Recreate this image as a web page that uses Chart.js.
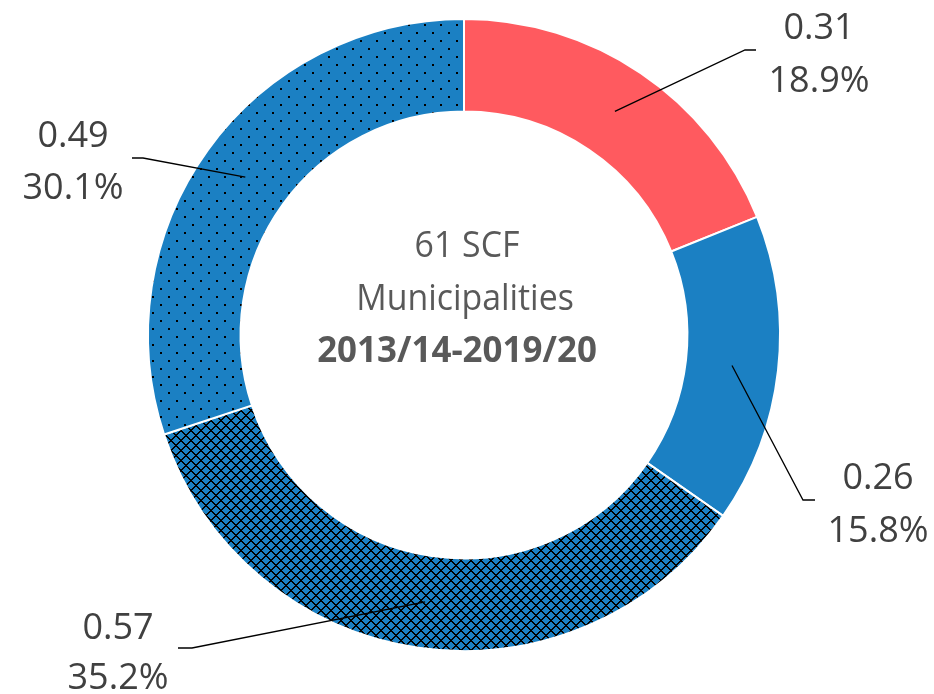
<!DOCTYPE html>
<html><head><meta charset="utf-8">
<script src="https://cdn.jsdelivr.net/npm/chart.js@4"></script>
<style>html,body{margin:0;padding:0;background:#fff;} #wrap{width:934px;height:694px;position:relative}</style>
</head><body><div id="wrap"><canvas id="c" width="934" height="694"></canvas></div>
<script>
// ---- data ----
const categories = ['Segment 1', 'Segment 2', 'Segment 3', 'Segment 4'];
const values = [0.31, 0.26, 0.57, 0.49];
const shares = [18.9, 15.8, 35.2, 30.1];
const valueLabels = ['0.31', '0.26', '0.57', '0.49'];
const shareLabels = ['18.9%', '15.8%', '35.2%', '30.1%'];
const centerLines = ['61 SCF', 'Municipalities', '2013/14-2019/20'];

// ---- styling ----
const RED = '#FF5A5F';
const BLUE = '#1B80C3';
const TEXT = '#404040';
const CENTER_TEXT = '#595959';
const FONT = '"Open Sans", "Noto Sans", sans-serif';

function makeTile(w, h, draw) {
  const c = document.createElement('canvas');
  c.width = w; c.height = h;
  const g = c.getContext('2d');
  g.fillStyle = BLUE; g.fillRect(0, 0, w, h);
  g.fillStyle = '#000';
  draw(g);
  return g.createPattern(c, 'repeat');
}
const dotPattern = makeTile(16, 16, g => { g.fillRect(0, 0, 2, 2); g.fillRect(8, 8, 2, 2); });
const diamondPattern = makeTile(10, 10, g => {
  for (let x = 0; x < 10; x++) for (let y = 0; y < 10; y++) {
    const s = (x + y) % 10;
    const d = ((x - y) % 10 + 10) % 10;
    if (s === 0 || s === 1 || d === 0 || d === 1) g.fillRect(x, y, 1, 1);
  }
});
const fills = [RED, BLUE, diamondPattern, dotPattern];

// label layout: offsets (px) from ring centre: bend point, line end x, text centre x, baselines
const labelLayout = [
  { bx: 281, by: -285, ex: 292, tx: 355, b1: -296, b2: -243 },
  { bx: 339, by: 165, ex: 351, tx: 414, b1: 154, b2: 207 },
  { bx: -272, by: 313, ex: -286, tx: -346, b1: 304, b2: 354 },
  { bx: -321, by: -177, ex: -332, tx: -391, b1: -188, b2: -136 }
];
// centre text layout: x offset, baseline offset, weight, horizontal scale
const centerLayout = [
  { dx: 3, by: -78, bold: false, sx: 0.94 },
  { dx: 1, by: -25, bold: false, sx: 0.94 },
  { dx: -7, by: 27, bold: true, sx: 0.97 }
];

const labelPlugin = {
  id: 'labels',
  afterDatasetsDraw(chart) {
    const ctx = chart.ctx;
    const meta = chart.getDatasetMeta(0);
    meta.data.forEach((arc, i) => {
      const cx = arc.x, cy = arc.y;
      const p = arc.tooltipPosition();
      const L = labelLayout[i];
      ctx.save();
      ctx.strokeStyle = '#000';
      ctx.lineWidth = 1.3;
      ctx.beginPath();
      ctx.moveTo(p.x, p.y);
      ctx.lineTo(cx + L.bx, cy + L.by);
      ctx.lineTo(cx + L.ex, cy + L.by);
      ctx.stroke();
      ctx.fillStyle = TEXT;
      ctx.font = '36px ' + FONT;
      ctx.textAlign = 'center';
      ctx.textBaseline = 'alphabetic';
      ctx.fillText(valueLabels[i], cx + L.tx, cy + L.b1);
      ctx.fillText(shareLabels[i], cx + L.tx, cy + L.b2);
      ctx.restore();
    });
    const a = meta.data[0];
    centerLines.forEach((txt, i) => {
      const C = centerLayout[i];
      ctx.save();
      ctx.fillStyle = CENTER_TEXT;
      ctx.textAlign = 'center';
      ctx.textBaseline = 'alphabetic';
      ctx.font = (C.bold ? 'bold ' : '') + '36px ' + FONT;
      ctx.translate(a.x + C.dx, a.y + C.by);
      ctx.scale(C.sx, 1);
      ctx.fillText(txt, 0, 0);
      ctx.restore();
    });
  }
};

new Chart(document.getElementById('c'), {
  type: 'doughnut',
  data: {
    labels: categories,
    datasets: [{
      data: shares,
      backgroundColor: fills,
      borderColor: '#ffffff',
      borderWidth: 2,
      hoverOffset: 0
    }]
  },
  options: {
    responsive: false,
    animation: false,
    cutout: '70.7%',
    layout: { padding: { top: 18, bottom: 42, left: 147, right: 153 } },
    plugins: { legend: { display: false }, tooltip: { enabled: false } }
  },
  plugins: [labelPlugin]
});
</script></body></html>
